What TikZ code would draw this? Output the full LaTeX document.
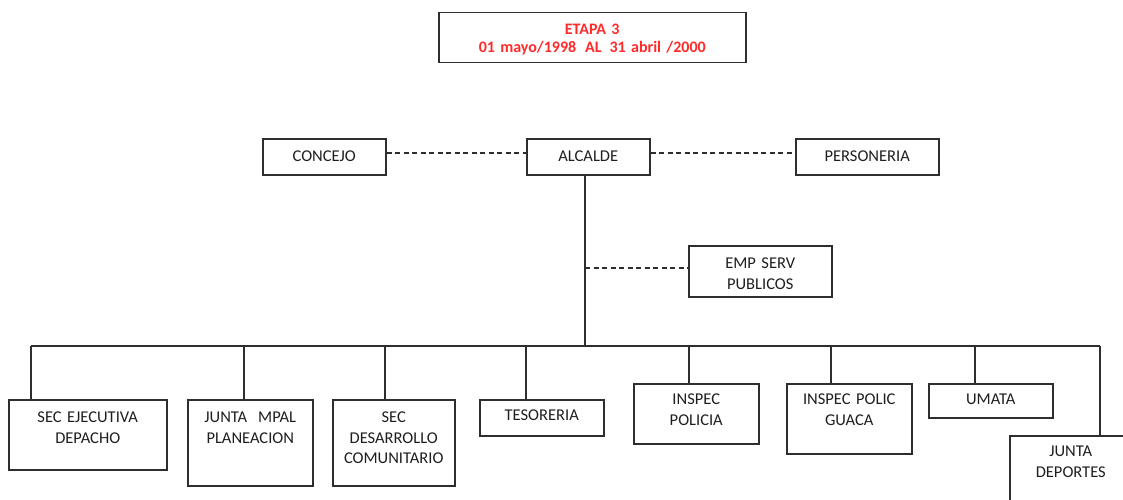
\documentclass[tikz,border=0pt]{standalone}
\usepackage{fontspec}
\setmainfont{Carlito}
\definecolor{linec}{HTML}{2E2E2E}
\definecolor{txt}{HTML}{1E1E1E}
\definecolor{red1}{HTML}{FF2A2A}
\tikzset{
  box/.style={draw=linec, line width=1.5pt, anchor=north west, inner xsep=0pt, inner ysep=0pt,
    align=center, text=txt, font=\fontsize{16.5}{20.5}\selectfont},
  conn/.style={draw=linec, line width=1.5pt},
  dconn/.style={draw=linec, line width=1.5pt, dash pattern=on 5pt off 3.5pt},
}
\begin{document}
\begin{tikzpicture}[x=1pt,y=-1pt]
\useasboundingbox (0,0) rectangle (1123,500);
\clip (0,0) rectangle (1123,500);
% title
\node[box, text=red1, font=\fontsize{16}{18}\bfseries, text width=307pt, text height=22pt, text depth=28pt]
  (title) at (438,12) {ETAPA 3\\01 mayo/1998\hspace{0.55em}AL\hspace{0.5em}31 abril /2000};
% top row
\node[box, text width=123pt, text height=23pt, text depth=13pt] (concejo) at (262,138) {CONCEJO};
\node[box, text width=123pt, text height=23pt, text depth=13pt] (alcalde) at (526,138) {ALCALDE};
\node[box, text width=143pt, text height=23pt, text depth=13pt] (personeria) at (795,138) {PERSONERIA};
% emp serv
\node[box, text width=143pt, text height=23pt, text depth=28pt] (emp) at (688,245) {EMP SERV\\PUBLICOS};
% children
\node[box, text width=158pt, text height=23pt, text depth=47pt] (sec) at (8,399) {SEC EJECUTIVA\\DEPACHO};
\node[box, text width=125pt, text height=23pt, text depth=63pt] (jmpal) at (187,399) {JUNTA\ \ MPAL\\PLANEACION};
\node[box, text width=122pt, text height=23pt, text depth=63pt] (secdes) at (332,399) {SEC\\DESARROLLO\\COMUNITARIO};
\node[box, text width=124pt, text height=21pt, text depth=15pt] (teso) at (479,399) {TESORERIA};
\node[box, text width=125pt, text height=21pt, text depth=39pt] (insp) at (633,383) {INSPEC\\POLICIA};
\node[box, text width=125pt, text height=21pt, text depth=49pt] (guaca) at (786,383) {INSPEC POLIC\\GUACA};
\node[box, text width=124pt, text height=21pt, text depth=13pt] (umata) at (928,383) {UMATA};
\node[box, text width=122pt, text height=21pt, text depth=64pt] (jdep) at (1009,435) {JUNTA\\DEPORTES};
% connectors
\draw[dconn] ([yshift=4pt]concejo.east) -- ([yshift=4pt]concejo.east -| alcalde.west);
\draw[dconn] ([yshift=4pt]alcalde.east) -- ([yshift=4pt]alcalde.east -| personeria.west);
\coordinate (bus) at (585,346);
\coordinate (e1) at (585,268);
\draw[conn] (bus |- alcalde.south) -- (bus);
\draw[dconn] (e1) -- (e1 -| emp.west);
\coordinate (b1) at (31,346);
\coordinate (b2) at (244,346);
\coordinate (b3) at (385,346);
\coordinate (b4) at (526,346);
\coordinate (b5) at (689,346);
\coordinate (b6) at (831,346);
\coordinate (b7) at (975,346);
\coordinate (b8) at (1100,346);
\draw[conn] (b1) -- (b8);
\draw[conn] (b1) -- (b1 |- sec.north);
\draw[conn] (b2) -- (b2 |- jmpal.north);
\draw[conn] (b3) -- (b3 |- secdes.north);
\draw[conn] (b4) -- (b4 |- teso.north);
\draw[conn] (b5) -- (b5 |- insp.north);
\draw[conn] (b6) -- (b6 |- guaca.north);
\draw[conn] (b7) -- (b7 |- umata.north);
\draw[conn] (b8) -- (b8 |- jdep.north);
\end{tikzpicture}
\end{document}
